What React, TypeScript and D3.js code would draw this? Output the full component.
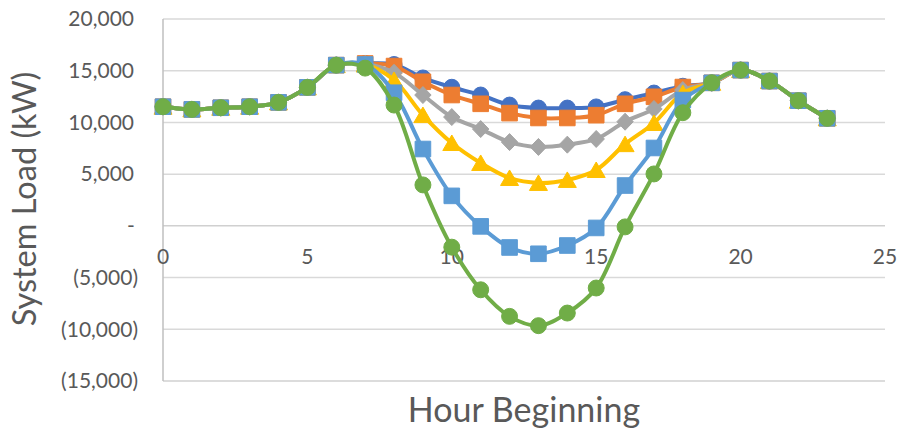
import React from "react";
import * as d3 from "d3";

// Hour of day (0–23)
const hours = d3.range(0, 24);

// System load by scenario, kW
const seriesA = [11520, 11260, 11420, 11520, 11940, 13390, 15540, 15700, 15600, 14300, 13400, 12650, 11680, 11390, 11390, 11500, 12200, 12840, 13500, 13830, 15060, 14000, 12100, 10400];
const seriesB = [11520, 11260, 11420, 11520, 11940, 13390, 15540, 15700, 15450, 13930, 12650, 11800, 10900, 10430, 10430, 10700, 11800, 12480, 13420, 13830, 15060, 14000, 12100, 10400];
const seriesC = [11520, 11260, 11420, 11520, 11940, 13390, 15540, 15650, 14800, 12650, 10520, 9360, 8100, 7630, 7850, 8400, 10070, 11300, 13130, 13830, 15060, 14000, 12100, 10400];
const seriesD = [11520, 11260, 11420, 11520, 11940, 13390, 15540, 15600, 14100, 10710, 8010, 6080, 4630, 4150, 4440, 5400, 7900, 9950, 12840, 13830, 15060, 14000, 12100, 10400];
const seriesE = [11520, 11260, 11420, 11520, 11940, 13390, 15540, 15600, 12870, 7430, 2900, -50, -2090, -2700, -1900, -200, 3900, 7530, 12160, 13830, 15060, 14000, 12100, 10400];
const seriesF = [11520, 11260, 11420, 11520, 11940, 13390, 15540, 15250, 11680, 3960, -2060, -6180, -8750, -9650, -8430, -6010, -100, 5020, 10940, 13830, 15060, 14000, 12100, 10400];

const xTicks = [0, 5, 10, 15, 20, 25];
const yTicks = [-15000, -10000, -5000, 0, 5000, 10000, 15000, 20000];

type Shape = "circle" | "square" | "diamond" | "triangle";
const series: { values: number[]; color: string; shape: Shape }[] = [
  { values: seriesA, color: "#4472C4", shape: "circle" },
  { values: seriesB, color: "#ED7D31", shape: "square" },
  { values: seriesC, color: "#A5A5A5", shape: "diamond" },
  { values: seriesD, color: "#FFC000", shape: "triangle" },
  { values: seriesE, color: "#5B9BD5", shape: "square" },
  { values: seriesF, color: "#70AD47", shape: "circle" },
];

const W = 902;
const H = 428;
const left = 163;
const right = 885;
const top = 19;
const bottom = 381;

const x = d3.scaleLinear().domain([0, 25]).range([left, right]);
const y = d3.scaleLinear().domain([-15000, 20000]).range([bottom, top]);

const fmt = d3.format(",");
function yLabel(v: number) {
  if (v === 0) return "-";
  if (v < 0) return `(${fmt(-v)})`;
  return fmt(v);
}

// Marker outlines, centred on their bounding box
function markerPath(shape: Shape): string {
  switch (shape) {
    case "circle":
      return d3.symbol().type(d3.symbolCircle).size(200)() ?? "";
    case "square":
      return "M-7.8,-7.8H7.8V7.8H-7.8Z";
    case "diamond":
      return "M0,-8.5L8.2,0L0,8.5L-8.2,0Z";
    case "triangle":
      return "M0,-8L9,7.5L-9,7.5Z";
  }
}

const line = d3
  .line<number>()
  .x((_, i) => x(hours[i]))
  .y((d) => y(d))
  .curve(d3.curveCatmullRom.alpha(0.5));

const font = "Lato, 'Open Sans', sans-serif";
const textColor = "#595959";

export default function App() {
  return (
    <svg
      width={W}
      height={H}
      style={{ position: "absolute", left: 0, top: 0, background: "#fff" }}
      fontFamily={font}
    >
      {/* horizontal gridlines */}
      {yTicks.map((t) => (
        <line
          key={t}
          x1={left}
          x2={right}
          y1={y(t)}
          y2={y(t)}
          stroke={t === 0 || t === -15000 ? "#D0D0D0" : "#D9D9D9"}
          strokeWidth={1.5}
        />
      ))}
      {/* vertical axis line */}
      <line x1={left} x2={left} y1={top} y2={bottom} stroke="#BFBFBF" strokeWidth={1.5} />

      {/* y tick labels */}
      {yTicks.map((t) => (
        <text
          key={t}
          x={t < 0 ? 138 : t === 0 ? 131 : 134}
          y={y(t)}
          dy="0.35em"
          textAnchor={t === 0 ? "middle" : "end"}
          fontSize={21}
          fill={textColor}
        >
          {yLabel(t)}
        </text>
      ))}

      {/* x tick labels */}
      {xTicks.map((t) => (
        <text key={t} x={x(t)} y={264} textAnchor="middle" fontSize={21} fill={textColor}>
          {t}
        </text>
      ))}

      {/* axis titles */}
      <text
        transform={`translate(36, ${(top + bottom) / 2 - 1}) rotate(-90)`}
        textAnchor="middle"
        fontSize={32.5}
        fill={textColor}
      >
        System Load (kW)
      </text>
      <text x={(left + right) / 2} y={422} textAnchor="middle" fontSize={34} fill={textColor}>
        Hour Beginning
      </text>

      {/* series lines and markers */}
      {series.map((s, si) => (
        <g key={si}>
          <path d={line(s.values) ?? ""} fill="none" stroke={s.color} strokeWidth={4} strokeLinejoin="round" />
          {s.values.map((v, i) => (
            <path
              key={i}
              transform={`translate(${x(hours[i])},${y(v)})`}
              d={markerPath(s.shape)}
              fill={s.color}
              stroke={s.color}
              strokeWidth={1}
            />
          ))}
        </g>
      ))}
    </svg>
  );
}
